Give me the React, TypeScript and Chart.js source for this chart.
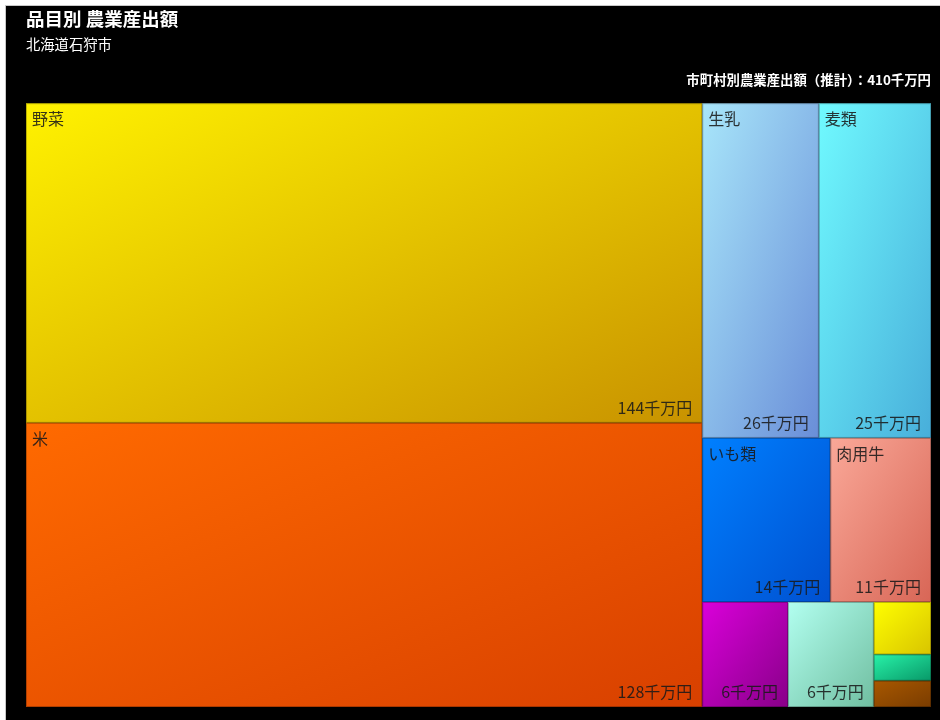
import React, { useEffect, useRef } from 'react';
import { Chart, registerables } from 'chart.js';

Chart.register(...registerables);

const titleText = '品目別 農業産出額';
const subtitleText = '北海道石狩市';
const totalLabel = '市町村別農業産出額（推計）';
const totalValue = 410;
const unit = '千万円';

const categories = ['野菜', '米', '生乳', '麦類', 'いも類', '肉用牛', '豆類', '花き', '果実', '工芸農作物', '豚'];
const values = [144, 128, 26, 25, 14, 11, 6, 6, 2, 1, 1];
const lightColors = ['#FFF200', '#FF6A00', '#A8E6FA', '#70FAFF', '#0080FF', '#FAA898', '#DA00DA', '#B2FFF0', '#FFFF00', '#28F2A8', '#A85800'];
const darkColors = ['#C89200', '#D84000', '#6A8ED8', '#48AEDA', '#0050D0', '#D86656', '#880088', '#70BEA0', '#D8C400', '#089868', '#7A3C00'];

const FONT = "'Noto Sans CJK JP', 'Noto Sans', sans-serif";
const PHI = (1 + Math.sqrt(5)) / 2;

type Rect = { x0: number; y0: number; x1: number; y1: number };

function squarify(vals: number[], X0: number, Y0: number, X1: number, Y1: number): Rect[] {
  const rects: Rect[] = new Array(vals.length);
  let value = vals.reduce((a, b) => a + b, 0);
  let x0 = X0, y0 = Y0, x1 = X1, y1 = Y1;
  let i0 = 0, i1 = 0;
  const n = vals.length;
  while (i0 < n) {
    const dx = x1 - x0, dy = y1 - y0;
    let sumValue = 0;
    do sumValue = vals[i1++]; while (!sumValue && i1 < n);
    let minValue = sumValue, maxValue = sumValue;
    const alpha = Math.max(dy / dx, dx / dy) / (value * PHI);
    let beta = sumValue * sumValue * alpha;
    let minRatio = Math.max(maxValue / beta, beta / minValue);
    for (; i1 < n; ++i1) {
      const nv = vals[i1];
      sumValue += nv;
      if (nv < minValue) minValue = nv;
      if (nv > maxValue) maxValue = nv;
      beta = sumValue * sumValue * alpha;
      const newRatio = Math.max(maxValue / beta, beta / minValue);
      if (newRatio > minRatio) { sumValue -= nv; break; }
      minRatio = newRatio;
    }
    if (dx < dy) {
      const ny = value ? y0 + dy * sumValue / value : y1;
      let cx = x0;
      for (let k = i0; k < i1; k++) {
        const w = (x1 - x0) * vals[k] / sumValue;
        rects[k] = { x0: cx, y0: y0, x1: cx + w, y1: ny };
        cx += w;
      }
      y0 = ny;
    } else {
      const nx = value ? x0 + dx * sumValue / value : x1;
      let cy = y0;
      for (let k = i0; k < i1; k++) {
        const h = (y1 - y0) * vals[k] / sumValue;
        rects[k] = { x0: x0, y0: cy, x1: nx, y1: cy + h };
        cy += h;
      }
      x0 = nx;
    }
    value -= sumValue;
    i0 = i1;
  }
  return rects;
}

const treemapPlugin = {
  id: 'treemapPlugin',
  afterDatasetsDraw(chart: any) {
    const { ctx, chartArea, scales } = chart;
    const xs = scales.x, ys = scales.y;
    const W = chartArea.right - chartArea.left;
    const H = chartArea.bottom - chartArea.top;
    const rects = squarify(values, 0, 0, W, H);
    ctx.save();
    rects.forEach((r, i) => {
      const px0 = xs.getPixelForValue((r.x0 / W) * 100);
      const px1 = xs.getPixelForValue((r.x1 / W) * 100);
      const py0 = ys.getPixelForValue((r.y0 / H) * 100);
      const py1 = ys.getPixelForValue((r.y1 / H) * 100);
      const w = px1 - px0, h = py1 - py0;
      // bounding-box gradient (top-left -> bottom-right in normalized space)
      ctx.save();
      ctx.translate(px0, py0);
      ctx.scale(w, h);
      const g = ctx.createLinearGradient(0, 0, 1, 1);
      g.addColorStop(0, lightColors[i]);
      g.addColorStop(1, darkColors[i]);
      ctx.fillStyle = g;
      ctx.fillRect(0, 0, 1, 1);
      ctx.restore();
      ctx.strokeStyle = 'rgba(0,0,0,0.25)';
      ctx.lineWidth = 1;
      ctx.strokeRect(px0 + 0.5, py0 + 0.5, w - 1, h - 1);
      ctx.fillStyle = 'rgba(25,25,25,0.88)';
      ctx.font = `16px ${FONT}`;
      if (h >= 120 && w >= 60) {
        ctx.textAlign = 'left';
        ctx.textBaseline = 'middle';
        ctx.fillText(categories[i], px0 + 6, py0 + 16);
      }
      if (h >= 60 && w >= 70) {
        ctx.textAlign = 'right';
        ctx.textBaseline = 'middle';
        ctx.fillText(`${values[i]}${unit}`, px1 - 10, py1 - 15);
      }
    });
    ctx.fillStyle = '#ffffff';
    ctx.font = `bold 13.4px ${FONT}`;
    ctx.textAlign = 'right';
    ctx.textBaseline = 'middle';
    ctx.fillText(`${totalLabel}：${totalValue}${unit}`, chartArea.right, 74);
    ctx.restore();
  },
};

export default function App() {
  const ref = useRef<HTMLCanvasElement | null>(null);
  useEffect(() => {
    if (!ref.current) return;
    const chart = new Chart(ref.current, {
      type: 'scatter',
      data: { datasets: [{ data: [], pointRadius: 0 }] },
      options: {
        animation: false,
        responsive: false,
        devicePixelRatio: 1,
        layout: { padding: { left: 20, right: 9, bottom: 13, top: 0 } },
        scales: {
          x: { type: 'linear', min: 0, max: 100, display: false },
          y: { type: 'linear', min: 0, max: 100, reverse: true, display: false },
        },
        plugins: {
          legend: { display: false },
          tooltip: { enabled: false },
          title: {
            display: true,
            text: titleText,
            align: 'start',
            color: '#ffffff',
            font: { family: FONT, size: 18.5, weight: 'bold' },
            padding: { top: 2, bottom: 3.4 },
          },
          subtitle: {
            display: true,
            text: subtitleText,
            align: 'start',
            color: '#ffffff',
            font: { family: FONT, size: 14.3, weight: 'normal' },
            padding: { top: 2, bottom: 50.44 },
          },
        },
      },
      plugins: [treemapPlugin],
    } as any);
    return () => chart.destroy();
  }, []);
  return (
    <div
      style={{
        position: 'absolute',
        left: 5,
        top: 5,
        width: 935,
        height: 715,
        background: '#000',
        borderLeft: '1px solid #c8c8c8',
        borderTop: '1px solid #c8c8c8',
        boxSizing: 'border-box',
        overflow: 'hidden',
      }}
    >
      <canvas ref={ref} width={934} height={714} style={{ display: 'block' }} />
    </div>
  );
}
